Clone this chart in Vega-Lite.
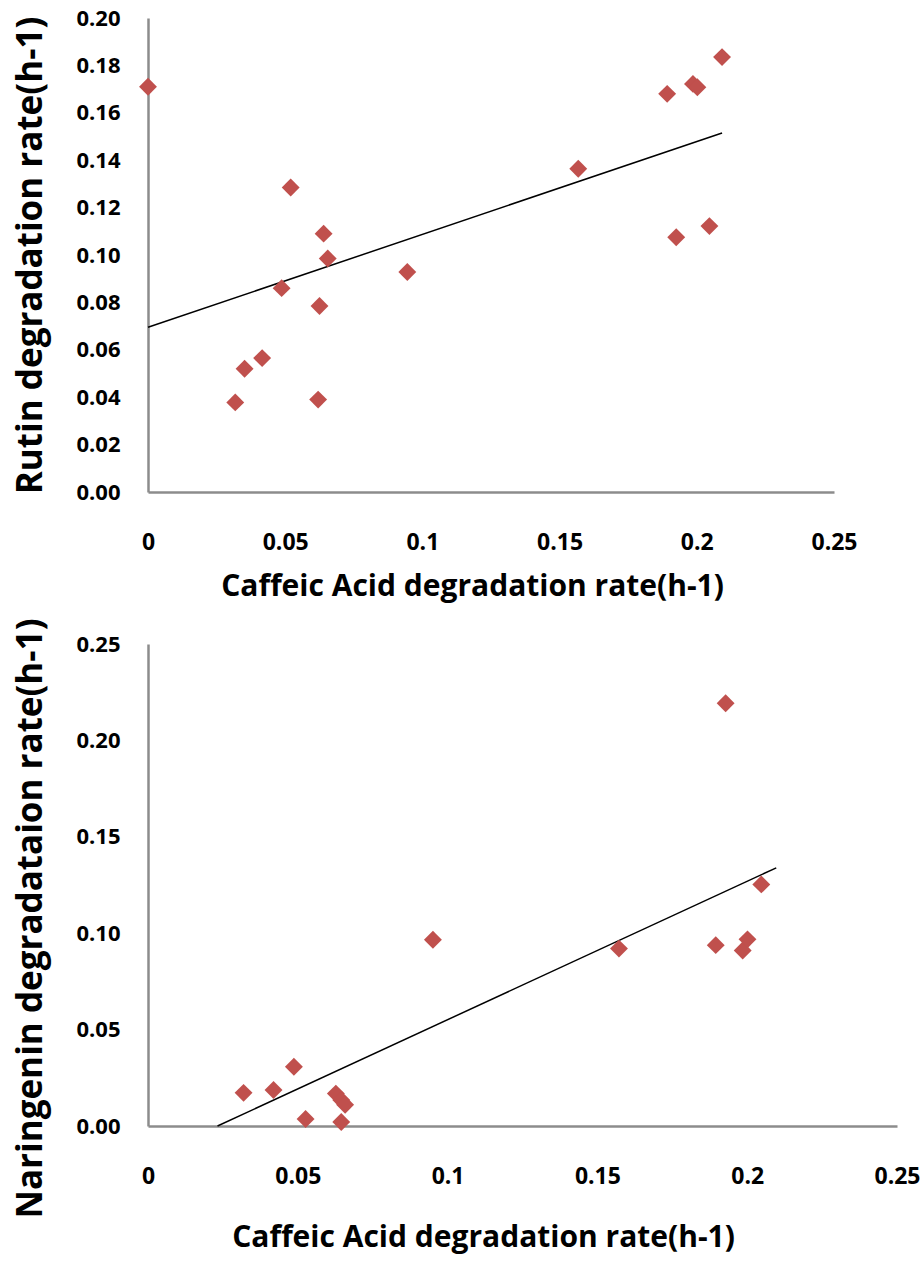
{
  "$schema": "https://vega.github.io/schema/vega-lite/v6.json",
  "padding": {"left": 13, "top": 7, "right": 0, "bottom": 12},
  "background": "white",
  "spacing": 16,
  "align": "each",
  "config": {
    "view": {"stroke": null},
    "axis": {
      "grid": false,
      "ticks": false,
      "tickSize": 0,
      "labelFlush": false,
      "domainColor": "#8c8c8c",
      "domainWidth": 2.5,
      "labelFont": "Open Sans",
      "labelFontWeight": "bold",
      "labelColor": "#000000",
      "titleFont": "Open Sans",
      "titleFontWeight": "bold",
      "titleColor": "#000000"
    }
  },
  "datasets": {
    "rutin": [
      {"caffeic": 0, "rate": 0.171},
      {"caffeic": 0.052, "rate": 0.1285},
      {"caffeic": 0.064, "rate": 0.109},
      {"caffeic": 0.0655, "rate": 0.0985},
      {"caffeic": 0.0487, "rate": 0.086},
      {"caffeic": 0.0625, "rate": 0.0785},
      {"caffeic": 0.0945, "rate": 0.0928},
      {"caffeic": 0.0352, "rate": 0.052},
      {"caffeic": 0.0416, "rate": 0.0565},
      {"caffeic": 0.0318, "rate": 0.0378},
      {"caffeic": 0.062, "rate": 0.039},
      {"caffeic": 0.1568, "rate": 0.1364},
      {"caffeic": 0.1892, "rate": 0.168},
      {"caffeic": 0.1986, "rate": 0.1722},
      {"caffeic": 0.2002, "rate": 0.1708},
      {"caffeic": 0.2092, "rate": 0.1835},
      {"caffeic": 0.1925, "rate": 0.1075},
      {"caffeic": 0.2046, "rate": 0.1122}
    ],
    "rutinTrend": [
      {"caffeic": 0, "rate": 0.0695},
      {"caffeic": 0.2092, "rate": 0.1515}
    ],
    "naringenin": [
      {"caffeic": 0.0319, "rate": 0.0172},
      {"caffeic": 0.0419, "rate": 0.0187},
      {"caffeic": 0.0487, "rate": 0.0307},
      {"caffeic": 0.0526, "rate": 0.0036},
      {"caffeic": 0.0627, "rate": 0.0168},
      {"caffeic": 0.0645, "rate": 0.0135},
      {"caffeic": 0.0658, "rate": 0.011},
      {"caffeic": 0.0645, "rate": 0.0021},
      {"caffeic": 0.0951, "rate": 0.0966},
      {"caffeic": 0.1572, "rate": 0.092},
      {"caffeic": 0.1895, "rate": 0.0938},
      {"caffeic": 0.1928, "rate": 0.2193},
      {"caffeic": 0.1985, "rate": 0.091},
      {"caffeic": 0.2001, "rate": 0.0968},
      {"caffeic": 0.2047, "rate": 0.1253}
    ],
    "naringeninTrend": [
      {"caffeic": 0.0232, "rate": 0},
      {"caffeic": 0.2097, "rate": 0.1339}
    ]
  },
  "vconcat": [
    {
      "width": 686,
      "height": 474,
      "layer": [
        {
          "data": {"name": "rutinTrend"},
          "mark": {"type": "line", "color": "#000000", "strokeWidth": 1.5},
          "encoding": {
            "x": {"field": "caffeic", "type": "quantitative"},
            "y": {"field": "rate", "type": "quantitative"}
          }
        },
        {
          "data": {"name": "rutin"},
          "mark": {"type": "point", "shape": "diamond", "filled": true, "opacity": 1, "color": "#C0504D", "size": 320},
          "encoding": {
            "x": {
              "field": "caffeic", "type": "quantitative",
              "scale": {"domain": [0, 0.25], "nice": false},
              "axis": {
                "values": [0, 0.05, 0.1, 0.15, 0.2, 0.25],
                "format": "~g",
                "labelFontSize": 23,
                "labelPadding": 39,
                "title": "Caffeic Acid degradation rate(h-1)",
                "titleFontSize": 30,
                "titlePadding": 17,
                "titleX": 324
              }
            },
            "y": {
              "field": "rate", "type": "quantitative",
              "scale": {"domain": [0, 0.2], "nice": false},
              "axis": {
                "values": [0, 0.02, 0.04, 0.06, 0.08, 0.1, 0.12, 0.14, 0.16, 0.18, 0.2],
                "format": ".2f",
                "labelFontSize": 22,
                "labelPadding": 28,
                "title": "Rutin degradation rate(h-1)",
                "titleFontSize": 35,
                "titlePadding": 27
              }
            }
          }
        }
      ]
    },
    {
      "width": 749,
      "height": 482,
      "layer": [
        {
          "data": {"name": "naringeninTrend"},
          "mark": {"type": "line", "color": "#000000", "strokeWidth": 1.5},
          "encoding": {
            "x": {"field": "caffeic", "type": "quantitative"},
            "y": {"field": "rate", "type": "quantitative"}
          }
        },
        {
          "data": {"name": "naringenin"},
          "mark": {"type": "point", "shape": "diamond", "filled": true, "opacity": 1, "color": "#C0504D", "size": 320},
          "encoding": {
            "x": {
              "field": "caffeic", "type": "quantitative",
              "scale": {"domain": [0, 0.25], "nice": false},
              "axis": {
                "values": [0, 0.05, 0.1, 0.15, 0.2, 0.25],
                "format": "~g",
                "labelFontSize": 23,
                "labelPadding": 39,
                "title": "Caffeic Acid degradation rate(h-1)",
                "titleFontSize": 30,
                "titlePadding": 34,
                "titleX": 335
              }
            },
            "y": {
              "field": "rate", "type": "quantitative",
              "scale": {"domain": [0, 0.25], "nice": false},
              "axis": {
                "values": [0, 0.05, 0.1, 0.15, 0.2, 0.25],
                "format": ".2f",
                "labelFontSize": 22,
                "labelPadding": 28,
                "title": "Naringenin degradataion rate(h-1)",
                "titleFontSize": 35,
                "titlePadding": 27,
                "titleY": 274
              }
            }
          }
        }
      ]
    }
  ]
}
